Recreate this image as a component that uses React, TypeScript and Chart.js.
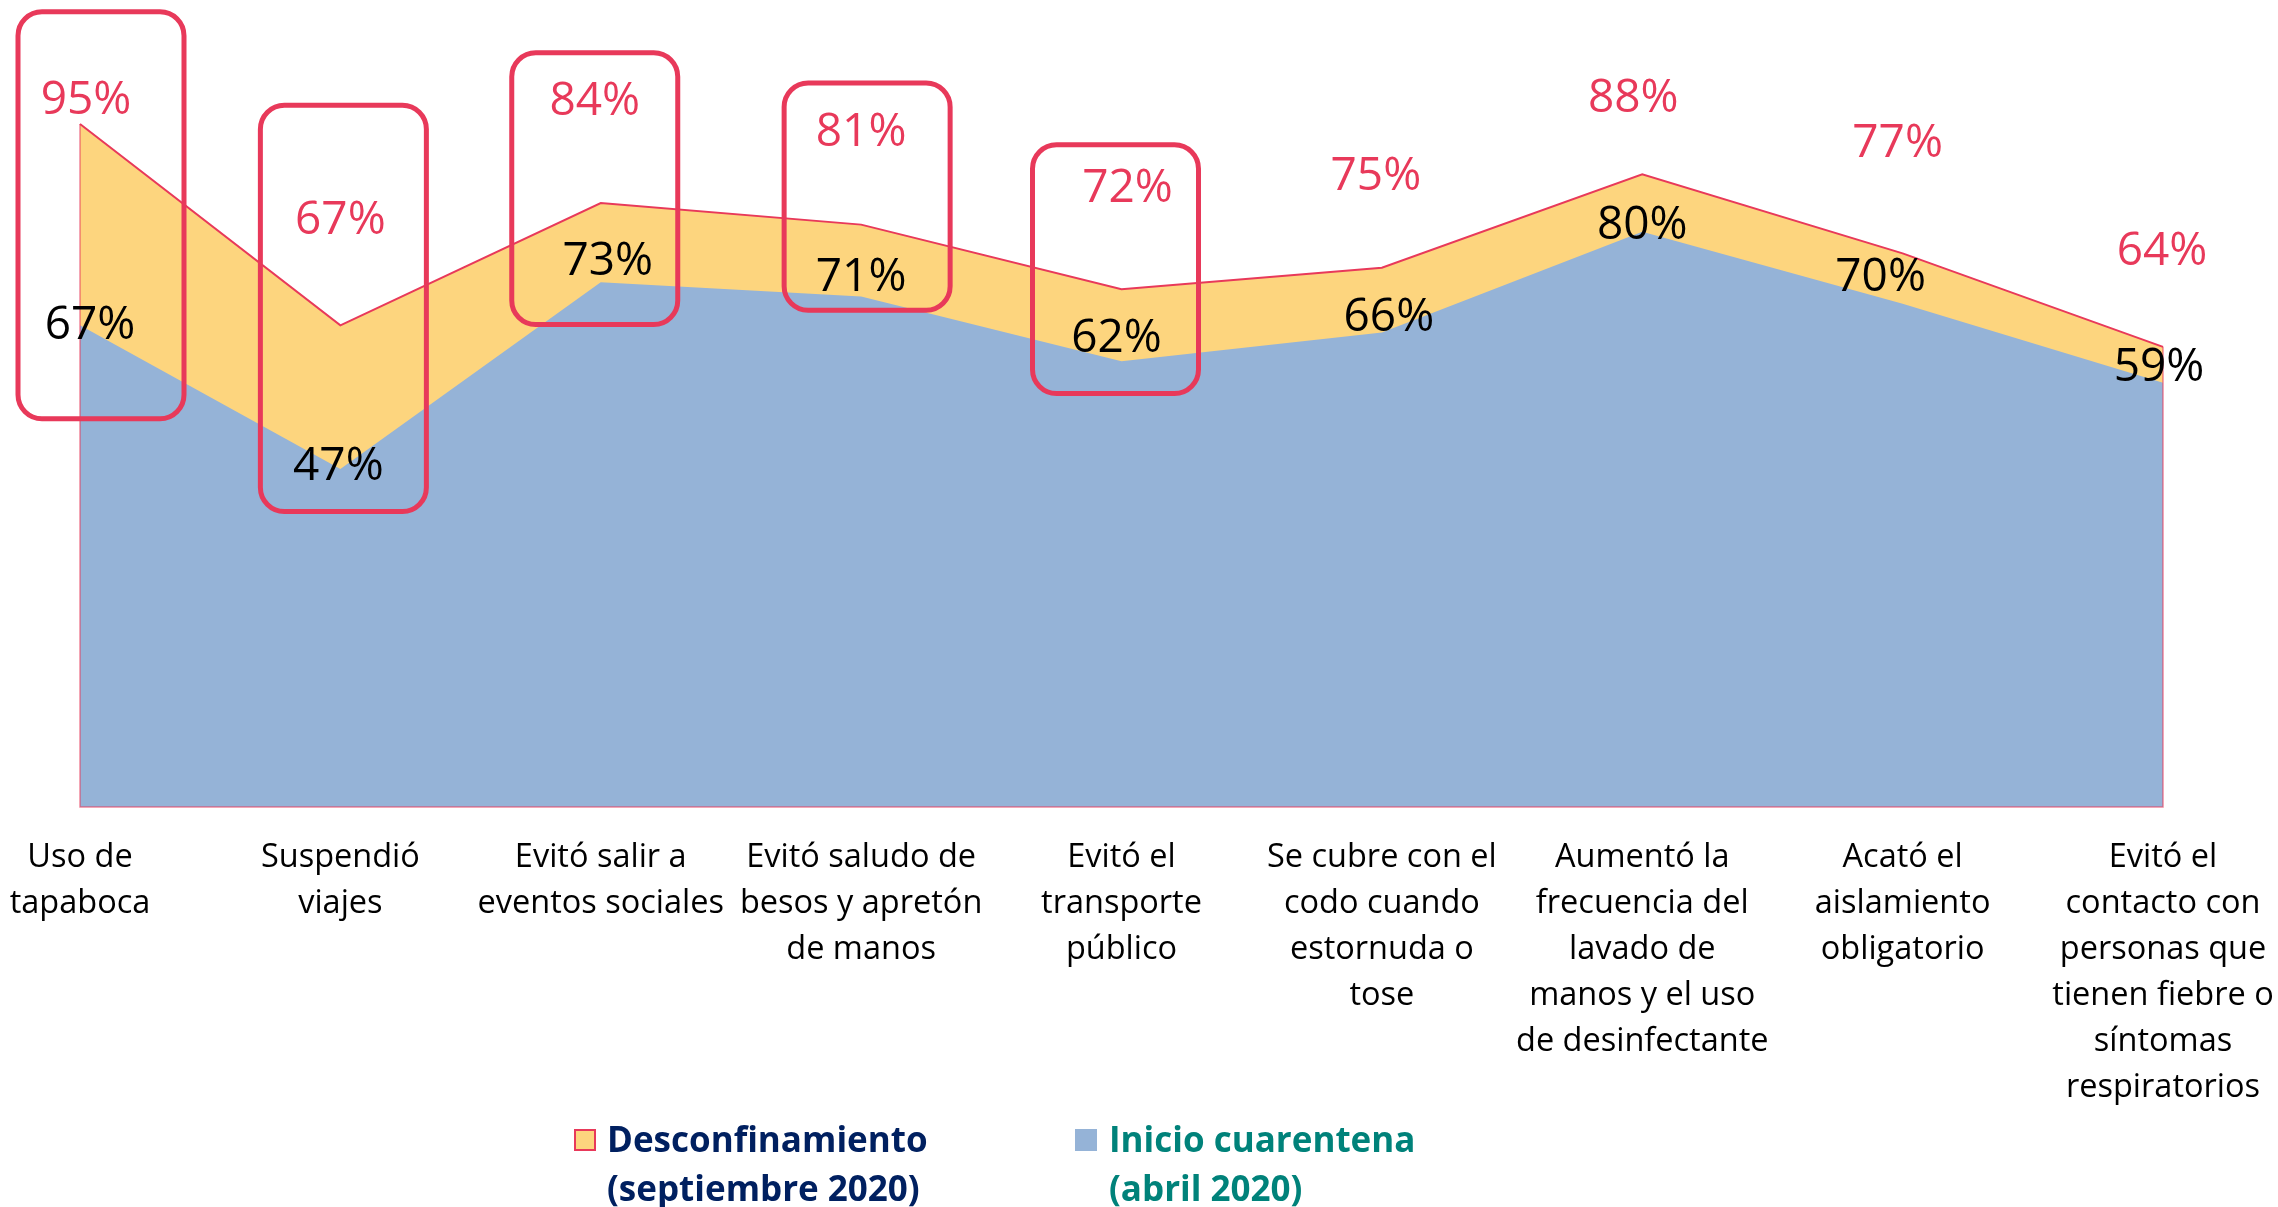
import React, { useEffect, useRef } from "react";
import { Chart, registerables } from "chart.js";

Chart.register(...registerables);

const categories: string[][] = [
  ["Uso de", "tapaboca"],
  ["Suspendió", "viajes"],
  ["Evitó salir a", "eventos sociales"],
  ["Evitó saludo de", "besos y apretón", "de manos"],
  ["Evitó el", "transporte", "público"],
  ["Se cubre con el", "codo cuando", "estornuda o", "tose"],
  ["Aumentó la", "frecuencia del", "lavado de", "manos y el uso", "de desinfectante"],
  ["Acató el", "aislamiento", "obligatorio"],
  ["Evitó el", "contacto con", "personas que", "tienen fiebre o", "síntomas", "respiratorios"],
];

const desconfinamiento: number[] = [95, 67, 84, 81, 72, 75, 88, 77, 64];
const inicioCuarentena: number[] = [67, 47, 73, 71, 62, 66, 80, 70, 59];

const seriesNames: string[][] = [
  ["Desconfinamiento", "(septiembre 2020)"],
  ["Inicio cuarentena", "(abril 2020)"],
];

// highlighted categories (rounded boxes), value range in % units
const boxCategories: number[] = [0, 1, 2, 3, 4];
const boxTopValues: number[] = [110.6, 97.6, 104.9, 100.7, 92.1];
const boxBottomValues: number[] = [54.0, 41.1, 67.1, 69.1, 57.5];

// label placement (pixels)
const topLabelDy: number[] = [23, 104, 101, 92, 100, 91, 75, 109, 95];
const topLabelDx: number[] = [6, 0, -6, 0, 6, -6, -9, -5, -1];
const botLabelDy: number[] = [-1, 2, 20, 19, 22, 15, 6, 26, 15];
const botLabelDx: number[] = [10, -2, 7, 0, -5, 7, 0, -22, -4];
const boxDx: number[] = [21, 3, -6, 6, -6];

const RED = "#E8395A";
const YELLOW = "#FDD57E";
const BLUE = "#95B3D7";
const FONT = "'Open Sans', 'Noto Sans', sans-serif";

const annotationPlugin = {
  id: "annotations",
  afterDatasetsDraw(chart: any) {
    const ctx = chart.ctx;
    const xs = chart.scales.x;
    const ys = chart.scales.y;
    const bottom = ys.getPixelForValue(0);
    const n = desconfinamiento.length;
    // outline of the yellow area edges
    ctx.save();
    ctx.strokeStyle = RED;
    ctx.lineWidth = 1.5;
    ctx.globalAlpha = 0.6;
    ctx.beginPath();
    ctx.moveTo(xs.getPixelForValue(0), ys.getPixelForValue(desconfinamiento[0]));
    ctx.lineTo(xs.getPixelForValue(0), bottom);
    ctx.lineTo(xs.getPixelForValue(n - 1), bottom);
    ctx.lineTo(xs.getPixelForValue(n - 1), ys.getPixelForValue(desconfinamiento[n - 1]));
    ctx.stroke();
    ctx.restore();

    // value labels
    ctx.save();
    ctx.font = `46px ${FONT}`;
    ctx.textAlign = "center";
    ctx.textBaseline = "middle";
    for (let i = 0; i < n; i++) {
      const x = xs.getPixelForValue(i);
      ctx.fillStyle = RED;
      ctx.fillText(
        desconfinamiento[i] + "%",
        x + topLabelDx[i],
        ys.getPixelForValue(desconfinamiento[i]) - topLabelDy[i]
      );
      ctx.fillStyle = "#000000";
      ctx.fillText(
        inicioCuarentena[i] + "%",
        x + botLabelDx[i],
        ys.getPixelForValue(inicioCuarentena[i]) - botLabelDy[i]
      );
    }
    ctx.restore();

    // rounded boxes
    ctx.save();
    ctx.strokeStyle = RED;
    ctx.lineWidth = 5;
    for (let b = 0; b < boxCategories.length; b++) {
      const cx = xs.getPixelForValue(boxCategories[b]) + boxDx[b];
      const top = ys.getPixelForValue(boxTopValues[b]);
      const bot = ys.getPixelForValue(boxBottomValues[b]);
      ctx.beginPath();
      ctx.roundRect(cx - 83, top, 166, bot - top, 24);
      ctx.stroke();
    }
    ctx.restore();
  },
};

export default function App() {
  const canvasRef = useRef<HTMLCanvasElement | null>(null);

  useEffect(() => {
    if (!canvasRef.current) return;
    const chart = new Chart(canvasRef.current, {
      type: "line",
      data: {
        labels: categories,
        datasets: [
          {
            label: seriesNames[1].join(" "),
            data: inicioCuarentena,
            backgroundColor: BLUE,
            borderWidth: 0,
            borderColor: BLUE,
            fill: "origin",
            pointRadius: 0,
            tension: 0,
            order: 0,
          },
          {
            label: seriesNames[0].join(" "),
            data: desconfinamiento,
            backgroundColor: YELLOW,
            borderColor: RED,
            borderWidth: 2,
            fill: "origin",
            pointRadius: 0,
            tension: 0,
            order: 1,
          },
        ],
      },
      options: {
        animation: false,
        responsive: true,
        maintainAspectRatio: false,
        layout: { padding: { left: 80, right: 115, top: 88, bottom: 68 } },
        plugins: {
          legend: { display: false },
          tooltip: { enabled: false },
          title: { display: false },
        },
        scales: {
          x: {
            offset: false,
            grid: { display: false, drawTicks: false },
            border: { display: false },
            afterFit(scale: any) {
              scale.paddingLeft = 0;
              scale.paddingRight = 0;
            },
            ticks: {
              autoSkip: false,
              maxRotation: 0,
              minRotation: 0,
              padding: 28,
              color: "#000000",
              font: { family: FONT, size: 32.5, lineHeight: 1.415 },
            },
          },
          y: {
            display: false,
            min: 0,
            max: 100,
          },
        },
      },
      plugins: [annotationPlugin],
    });
    return () => chart.destroy();
  }, []);

  const legendText = (color: string): React.CSSProperties => ({
    position: "absolute",
    top: 1114,
    fontFamily: FONT,
    fontWeight: 700,
    fontSize: 35,
    lineHeight: "49px",
    color,
    whiteSpace: "nowrap",
  });

  return (
    <div
      style={{
        position: "fixed",
        left: 0,
        top: 0,
        width: 2278,
        height: 1207,
        background: "#ffffff",
        overflow: "hidden",
      }}
    >
      <canvas ref={canvasRef} style={{ position: "absolute", left: 0, top: 0, width: 2278, height: 1207 }} />
      <div
        style={{
          position: "absolute",
          left: 574,
          top: 1129,
          width: 22,
          height: 22,
          boxSizing: "border-box",
          background: YELLOW,
          border: `2px solid ${RED}`,
        }}
      />
      <div style={{ ...legendText("#002060"), left: 607 }}>
        {seriesNames[0][0]}
        <br />
        {seriesNames[0][1]}
      </div>
      <div
        style={{
          position: "absolute",
          left: 1075,
          top: 1129,
          width: 22,
          height: 22,
          background: BLUE,
        }}
      />
      <div style={{ ...legendText("#00827A"), left: 1109 }}>
        {seriesNames[1][0]}
        <br />
        {seriesNames[1][1]}
      </div>
    </div>
  );
}
